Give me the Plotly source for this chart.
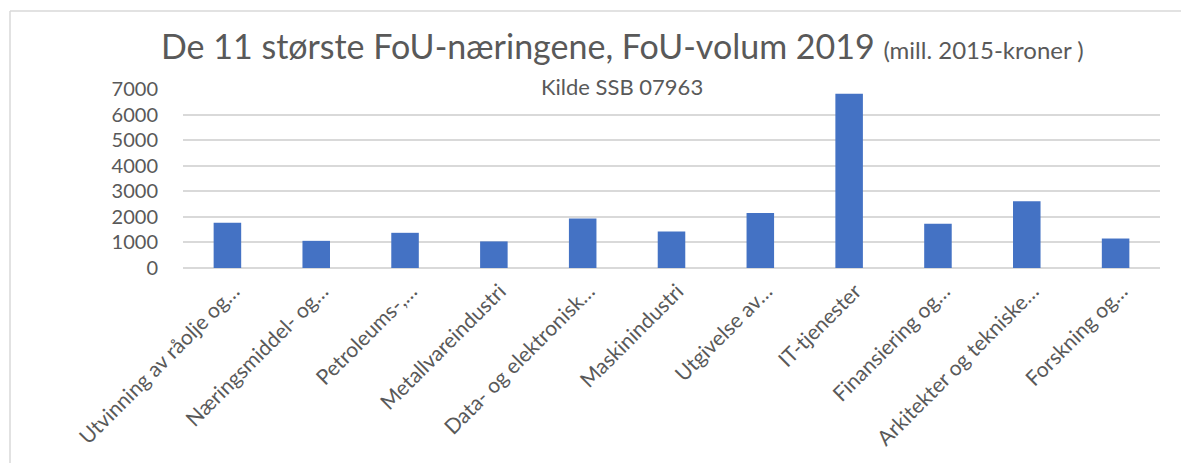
import plotly.graph_objects as go

categories = [
    "Utvinning av råolje og…",
    "Næringsmiddel- og…",
    "Petroleums-,…",
    "Metallvareindustri",
    "Data- og elektronisk…",
    "Maskinindustri",
    "Utgivelse av…",
    "IT-tjenester",
    "Finansiering og…",
    "Arkitekter og tekniske…",
    "Forskning og…",
]
values = [1770, 1062, 1376, 1040, 1940, 1429, 2150, 6815, 1730, 2609, 1153]
y_ticks = [0, 1000, 2000, 3000, 4000, 5000, 6000, 7000]

title_main = "De 11 største FoU-næringene, FoU-volum 2019"
title_unit = "(mill. 2015-kroner )"
subtitle = "Kilde SSB 07963"

W, H = 1181, 463
L, R, T, B = 183, 21, 89, 195
FONT = "Lato"
GREY = "#595959"

def px_x(px):
    return (px - L) / (W - L - R)

def px_y(py):
    return (H - B - py) / (H - T - B)

fig = go.Figure(go.Bar(
    x=categories, y=values,
    marker=dict(color="#4472C4", line=dict(width=0)),
    width=0.31,
))

fig.update_layout(
    width=W, height=H,
    margin=dict(l=L, r=R, t=T, b=B),
    paper_bgcolor="white", plot_bgcolor="white",
    showlegend=False,
    font=dict(family=FONT, color=GREY),
    xaxis=dict(
        tickangle=-45, tickfont=dict(size=21, color=GREY, family=FONT),
        showgrid=False, showline=False, ticks="",
        ticklabelstandoff=6, ticklabelshift=6,
    ),
    yaxis=dict(
        range=[0, 7000], tickvals=y_ticks,
        tickfont=dict(size=20, color=GREY, family=FONT),
        showgrid=True, gridcolor="#D9D9D9", gridwidth=1.5,
        zeroline=True, zerolinecolor="#D9D9D9", zerolinewidth=1.5,
        showline=False, ticks="", ticklabelstandoff=24,
    ),
    annotations=[
        dict(
            text=title_main + " <span style='font-size:24px'>" + title_unit + "</span>",
            x=px_x(622), y=px_y(45), xref="paper", yref="paper",
            xanchor="center", yanchor="middle", showarrow=False,
            font=dict(size=34, color=GREY, family=FONT),
        ),
        dict(
            text=subtitle,
            x=px_x(622), y=px_y(86), xref="paper", yref="paper",
            xanchor="center", yanchor="middle", showarrow=False,
            font=dict(size=22, color=GREY, family=FONT, weight="normal"),
        ),
    ],
    shapes=[
        dict(type="line", xref="paper", yref="paper",
             x0=px_x(10), x1=px_x(10), y0=px_y(11), y1=px_y(H + 5),
             line=dict(color="#D9D9D9", width=1.5)),
        dict(type="line", xref="paper", yref="paper",
             x0=px_x(10), x1=px_x(W + 5), y0=px_y(11), y1=px_y(11),
             line=dict(color="#D9D9D9", width=1.5)),
    ],
)

fig.write_html(
    "out.html",
    config={"displayModeBar": False},
    post_script="document.body.style.margin='0';document.body.style.overflow='hidden';",
)
